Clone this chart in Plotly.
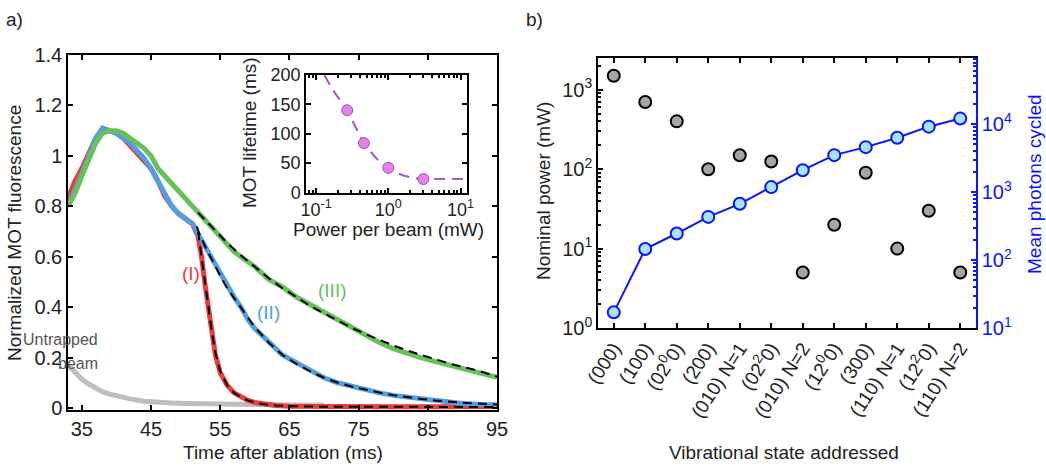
import plotly.graph_objects as go

# ---------------- data: panel a ----------------
t_I = [33, 34, 35, 36, 37, 38, 39, 40, 41, 42, 43, 44, 45, 46, 47, 48, 49, 50, 51, 51.8, 52.3, 52.8,
       53.3, 53.8, 54.3, 55, 56, 57, 58, 59, 60, 61, 63, 65, 70, 75, 80, 85, 90, 95]
v_I = [0.83, 0.90, 0.95, 1.01, 1.07, 1.10, 1.10, 1.09, 1.07, 1.04, 1.01, 0.98, 0.95, 0.90, 0.84, 0.80,
       0.77, 0.75, 0.73, 0.68, 0.60, 0.49, 0.39, 0.29, 0.21, 0.14, 0.09, 0.06, 0.045, 0.03, 0.022, 0.017,
       0.01, 0.007, 0.005, 0.005, 0.005, 0.005, 0.006, 0.006]

t_II = [33, 34, 35, 36, 37, 38, 39, 40, 41, 42, 43, 44, 45, 46, 47, 48, 49, 50, 51, 52, 53, 54, 55, 56,
        57, 58, 59, 60, 62, 64, 66, 68, 70, 72, 74, 76, 78, 80, 82, 84, 86, 88, 90, 92, 95]
v_II = [0.80, 0.86, 0.93, 1.00, 1.07, 1.11, 1.10, 1.09, 1.07, 1.05, 1.02, 0.99, 0.95, 0.90, 0.85, 0.80,
        0.77, 0.75, 0.73, 0.68, 0.63, 0.58, 0.53, 0.48, 0.44, 0.40, 0.35, 0.315, 0.26, 0.21, 0.18, 0.15,
        0.12, 0.10, 0.085, 0.072, 0.06, 0.05, 0.043, 0.035, 0.028, 0.022, 0.018, 0.015, 0.012]

t_III = [33, 34, 35, 36, 37, 38, 39, 40, 41, 42, 43, 44, 45, 46, 47, 48, 49, 50, 51, 52, 53, 54, 55, 56,
         57, 58, 59, 60, 62, 64, 66, 68, 70, 72, 74, 76, 78, 80, 82, 84, 86, 88, 90, 92, 95]
v_III = [0.80, 0.85, 0.92, 0.99, 1.05, 1.09, 1.10, 1.10, 1.09, 1.07, 1.05, 1.03, 1.00, 0.95, 0.92, 0.89,
         0.86, 0.83, 0.80, 0.77, 0.74, 0.71, 0.68, 0.65, 0.62, 0.60, 0.58, 0.56, 0.51, 0.48, 0.44, 0.41,
         0.38, 0.345, 0.32, 0.29, 0.26, 0.235, 0.215, 0.20, 0.185, 0.17, 0.155, 0.14, 0.122]

t_untrapped = [33, 34, 35, 36, 37, 38, 39, 40, 42, 44, 46, 48, 50, 55, 60, 65, 70]
v_untrapped = [0.17, 0.14, 0.115, 0.095, 0.078, 0.064, 0.055, 0.047, 0.036, 0.027, 0.022, 0.02, 0.018,
               0.015, 0.013, 0.012, 0.011]

t_fit_I = [51.8, 52.3, 52.8, 53.3, 53.8, 54.3, 55, 56, 57, 58, 59, 60, 61, 63, 65, 70, 80, 95]
v_fit_I = [0.70, 0.60, 0.49, 0.39, 0.30, 0.22, 0.145, 0.09, 0.06, 0.042, 0.03, 0.022, 0.016, 0.01, 0.007,
           0.005, 0.004, 0.004]
t_fit_II = [51.6, 52, 53, 54, 55, 56, 57, 58, 59, 60, 62, 64, 66, 68, 70, 72, 74, 76, 78, 80, 82, 84, 86,
            88, 90, 92, 95]
v_fit_II = [0.72, 0.69, 0.63, 0.575, 0.525, 0.475, 0.435, 0.395, 0.355, 0.32, 0.26, 0.21, 0.175, 0.145,
            0.12, 0.10, 0.085, 0.072, 0.061, 0.051, 0.043, 0.036, 0.03, 0.025, 0.021, 0.018, 0.014]
t_fit_III = [51.8, 54, 56, 58, 60, 62, 64, 66, 68, 70, 72, 74, 76, 78, 80, 82, 84, 86, 88, 90, 92, 95]
v_fit_III = [0.775, 0.71, 0.655, 0.605, 0.56, 0.515, 0.475, 0.44, 0.405, 0.375, 0.345, 0.318, 0.293, 0.27,
             0.248, 0.228, 0.21, 0.193, 0.177, 0.163, 0.15, 0.125]

# inset
power_pts = [0.27, 0.46, 1.0, 3.06]
lifetime_pts = [140, 84, 42, 23]
power_fit = [0.13, 0.17, 0.22, 0.27, 0.35, 0.46, 0.6, 0.8, 1.0, 1.4, 2.0, 3.0, 5.0, 12.5]
lifetime_fit = [200, 175, 155, 138, 112, 84, 66, 50, 41, 32, 26, 23.5, 23, 23]

y_ticks_a = [0, 0.2, 0.4, 0.6, 0.8, 1.0, 1.2, 1.4]
y_ticklabels_a = ["0", "0.2", "0.4", "0.6", "0.8", "1", "1.2", "1.4"]
x_ticks_a = [35, 45, 55, 65, 75, 85, 95]

# ---------------- data: panel b ----------------
states = ["(000)", "(100)", "(02<sup>0</sup>0)", "(200)", "(010) N=1", "(02<sup>2</sup>0)",
          "(010) N=2", "(12<sup>0</sup>0)", "(300)", "(110) N=1", "(12<sup>2</sup>0)", "(110) N=2"]
nominal_power = [1500, 700, 400, 100, 150, 125, 5, 20, 90, 10, 30, 5]
photons_cycled = [17, 145, 245, 430, 670, 1180, 2090, 3480, 4560, 6260, 9130, 12000]

W, H = 1046, 466
def px(x):
    return x / W
def py(y):
    return 1 - y / H

FONT = "Arial, Liberation Sans, sans-serif"
TXT = "#222"
RED = "#ec3b3f"
BLUE_A = "#4f9fe2"
GREEN = "#66c159"
GRAY = "#bebebe"
BLUE_B = "#0a14ff"

fig = go.Figure()

# panel a curves
fig.add_trace(go.Scatter(x=t_untrapped, y=v_untrapped, mode="lines",
                         line=dict(color=GRAY, width=5), xaxis="x", yaxis="y"))
fig.add_trace(go.Scatter(x=t_I, y=v_I, mode="lines", line=dict(color=RED, width=5),
                         xaxis="x", yaxis="y"))
fig.add_trace(go.Scatter(x=t_II, y=v_II, mode="lines", line=dict(color=BLUE_A, width=5),
                         xaxis="x", yaxis="y"))
fig.add_trace(go.Scatter(x=t_III, y=v_III, mode="lines", line=dict(color=GREEN, width=5),
                         xaxis="x", yaxis="y"))
for tt, vv in [(t_fit_I, v_fit_I), (t_fit_II, v_fit_II), (t_fit_III, v_fit_III)]:
    fig.add_trace(go.Scatter(x=tt, y=vv, mode="lines",
                             line=dict(color="black", width=2, dash="9px,6px"),
                             xaxis="x", yaxis="y"))

# inset
fig.add_trace(go.Scatter(x=power_fit, y=lifetime_fit, mode="lines",
                         line=dict(color="#a45bb5", width=2, dash="11px,7px", shape="spline"),
                         xaxis="x2", yaxis="y2"))
fig.add_trace(go.Scatter(x=power_pts, y=lifetime_pts, mode="markers",
                         marker=dict(size=11, color="#e581ea", line=dict(color="#a04fb0", width=1)),
                         xaxis="x2", yaxis="y2"))

# panel b
fig.add_trace(go.Scatter(x=list(range(len(states))), y=nominal_power, mode="markers",
                         marker=dict(size=12, color="#a5a5a5", line=dict(color="black", width=2)),
                         xaxis="x3", yaxis="y3"))
fig.add_trace(go.Scatter(x=list(range(len(states))), y=photons_cycled, mode="lines+markers",
                         line=dict(color=BLUE_B, width=2),
                         marker=dict(size=12, color="#a6e4ff", line=dict(color=BLUE_B, width=2)),
                         xaxis="x3", yaxis="y4"))

TS = 20   # tick font size
tickfont = dict(family=FONT, size=TS, color=TXT)
insetfont = dict(family=FONT, size=18, color=TXT)
axcommon = dict(showgrid=False, zeroline=False, showline=True, linecolor="black", linewidth=1.5,
                ticks="inside", tickcolor="black", tickwidth=1.5, tickfont=tickfont,
                automargin=False)

def minor_vals(lo, hi):
    vals = []
    for d in range(lo, hi):
        for m in range(2, 10):
            vals.append(m * 10 ** d)
    return vals

fig.update_layout(
    width=W, height=H, margin=dict(l=0, r=0, t=0, b=0, autoexpand=False),
    paper_bgcolor="white", plot_bgcolor="white", showlegend=False,
    font=dict(family=FONT, size=19, color=TXT),
    xaxis=dict(axcommon, domain=[px(68), px(497)], anchor="y", range=[33, 95],
               tickvals=x_ticks_a, ticklen=5, mirror="ticks"),
    yaxis=dict(axcommon, domain=[py(410), py(55)], anchor="x", range=[-0.008, 1.4],
               tickvals=y_ticks_a, ticktext=y_ticklabels_a, ticklen=5, mirror="ticks"),
    xaxis2=dict(axcommon, domain=[px(306), px(467)], anchor="y2", type="log", range=[-1.14, 1.09],
                tickvals=[0.1, 1, 10], ticktext=["10<sup>-1</sup>", "10<sup>0</sup>", "10<sup>1</sup>"],
                ticklen=5, mirror="ticks", tickfont=insetfont,
                minor=dict(ticks="inside", ticklen=3, tickcolor="black",
                           tickmode="array", tickvals=minor_vals(-2, 2))),
    yaxis2=dict(axcommon, domain=[py(192.5), py(75)], anchor="x2", range=[0, 200],
                tickvals=[0, 50, 100, 150, 200], ticklen=5, mirror="ticks", tickfont=insetfont),
    xaxis3=dict(axcommon, domain=[px(598), px(976)], anchor="y3", range=[-0.5, 11.5],
                tickvals=list(range(len(states))), ticktext=states, tickangle=-57, ticklen=5,
                mirror="ticks", tickfont=dict(family=FONT, size=19, color=TXT)),
    yaxis3=dict(axcommon, domain=[py(328), py(58)], anchor="x3", type="log", range=[0, 3.4],
                tickvals=[1, 10, 100, 1000],
                ticktext=["10<sup>0</sup>", "10<sup>1</sup>", "10<sup>2</sup>", "10<sup>3</sup>"],
                ticklen=5, mirror=False,
                minor=dict(ticks="inside", ticklen=3, tickcolor="black",
                           tickmode="array", tickvals=minor_vals(0, 4))),
    yaxis4=dict(axcommon, domain=[py(328), py(58)], anchor="x3", overlaying="y3", side="right",
                type="log", range=[1, 4.97], linecolor=BLUE_B, tickcolor=BLUE_B,
                tickvals=[10, 100, 1000, 10000],
                ticktext=["10<sup>1</sup>", "10<sup>2</sup>", "10<sup>3</sup>", "10<sup>4</sup>"],
                tickfont=dict(family=FONT, size=TS, color=BLUE_B), ticklen=5,
                minor=dict(ticks="inside", ticklen=3, tickcolor=BLUE_B,
                           tickmode="array", tickvals=minor_vals(1, 5))),
)

ann = []
def add_text(x, y, text, size=19, color=TXT, angle=0, xanchor="center", yanchor="middle"):
    ann.append(dict(x=px(x), y=py(y), xref="paper", yref="paper", text=text, showarrow=False,
                    font=dict(family=FONT, size=size, color=color), textangle=angle,
                    xanchor=xanchor, yanchor=yanchor))

add_text(4, 20, "a)", size=19, xanchor="left")
add_text(524, 20, "b)", size=19, xanchor="left")
add_text(14, 233, "Normalized MOT fluorescence", angle=-90)
add_text(283, 452, "Time after ablation (ms)")
add_text(249, 133, "MOT lifetime (ms)", angle=-90)
add_text(388, 229, "Power per beam (mW)")
add_text(544, 191, "Nominal power (mW)", angle=-90)
add_text(1034, 184, "Mean photons cycled", angle=-90, color=BLUE_B)
add_text(784, 452, "Vibrational state addressed")
add_text(100, 339, "Untrapped", size=16, color="#555", xanchor="right")
add_text(100, 363, "beam", size=16, color="#555", xanchor="right")
add_text(191, 273, "(I)", color=RED)
add_text(268, 312, "(II)", color=BLUE_A)
add_text(332, 290, "(III)", color=GREEN)
fig.update_layout(annotations=ann)

fig.write_html("out.html", config={"displayModeBar": False},
               post_script="document.body.style.margin='0';document.body.style.overflow='hidden';")
